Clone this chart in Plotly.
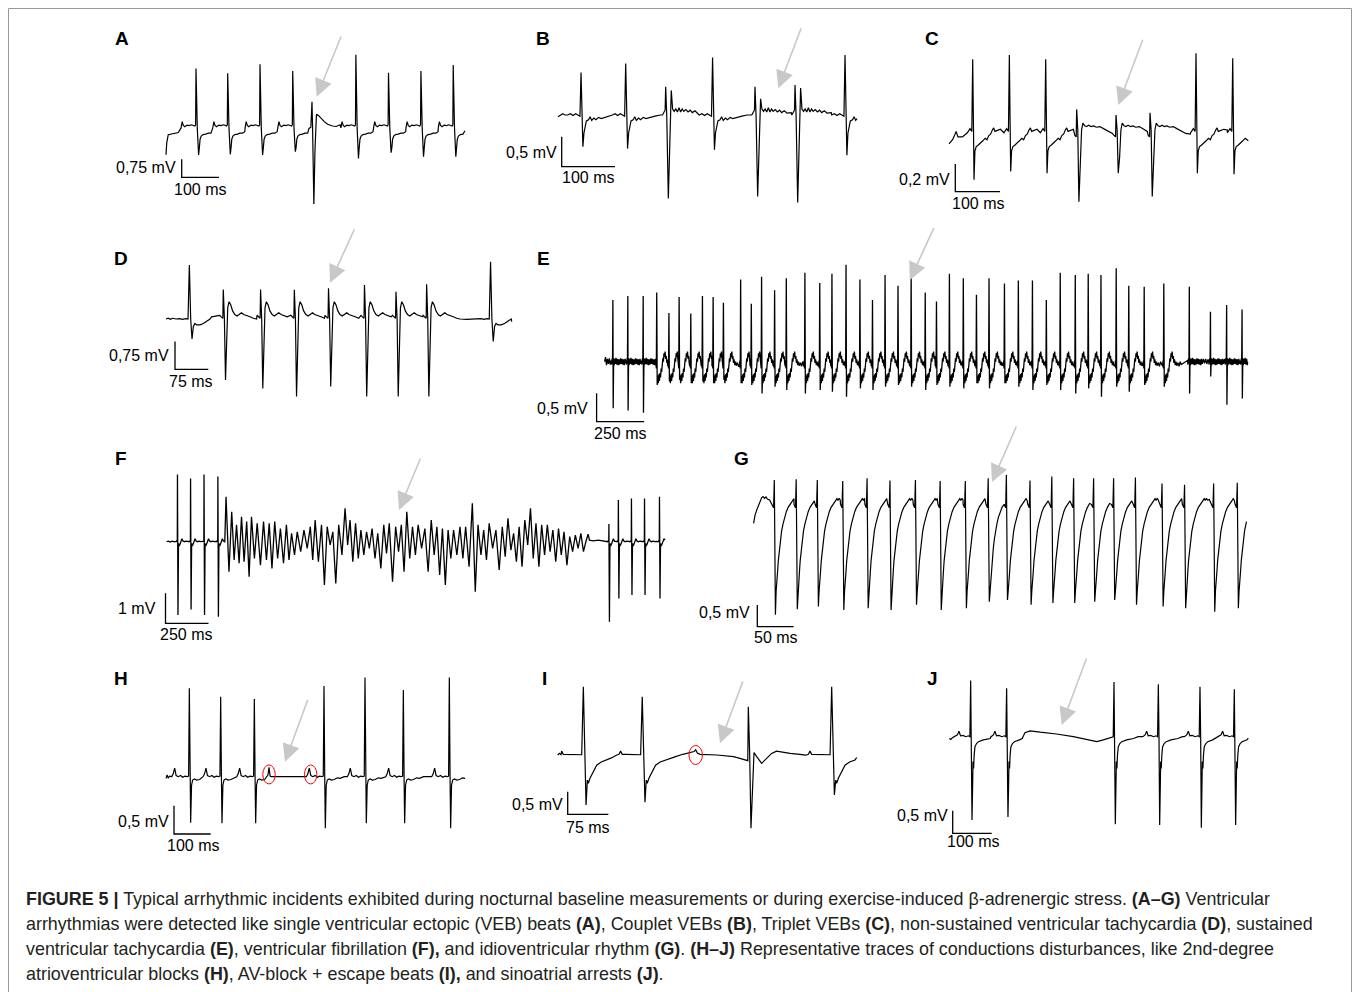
import plotly.graph_objects as go

# page is drawn with an 8px body margin: the figure covers page pixels 8..1360 x 8..992
PAGE_W, PAGE_H, OFF = 1360, 992, 8
W, H = PAGE_W - OFF, PAGE_H - OFF

# ======================= DATA (time in ms, voltage in mV) =======================
# ---- A: single VEB ----
A_T = [80.4, 165.4, 252.0, 339.7, 391.4, 509.0, 596.5, 683.4, 770.0]
A_R = [2.40, 2.20, 2.57, 2.29, 1.01, 2.97, 2.22, 2.29, 2.54]
A_S = [-1.21, -1.18, -1.21, -1.07, -3.25, -1.35, -1.11, -1.28, -1.28]
A_K = ["N", "N", "N", "N", "V", "N", "N", "N", "N"]
A_START = [(0, -1.2), (2, -0.7), (6, -0.36), (15, -0.32), (25, -0.3), (33, -0.27)]
A_END = (801.6, -0.2)

# ---- B: couplet VEBs ----
B_T = [43.2, 127.0, 202.0, 290.0, 369.6, 444.7, 538.5]
B_R = [0.71, 0.86, 0.47, 0.96, 0.47, 0.50, 1.00]
B_S = [-0.53, -0.56, -1.39, -0.58, -1.36, -1.46, -0.67]
B_Q = [0.0, 0.0, 0.41, 0.0, 0.27, 0.45, 0.0]
B_K = ["N", "N", "V", "N", "V", "V", "N"]
B_START = [(0, -0.03), (4, -0.01), (9, 0.02), (13, 0.0)]
B_END = (561.0, -0.06)

# ---- C: triplet VEBs ----
C_T = [53.0, 135.0, 216.3, 285.6, 373.6, 449.7, 552.6, 634.7]
C_R = [0.511, 0.542, 0.511, 0.149, 0.108, 0.125, 0.554, 0.518]
C_S = [-0.36, -0.30, -0.313, -0.518, -0.313, -0.48, -0.313, -0.32]
C_K = ["N", "N", "N", "V", "V", "V", "N", "N"]
C_START = [(0, -0.1), (8, -0.07), (13, -0.035), (16, -0.01), (20, -0.05), (30, -0.05)]
C_END = (669.6, -0.077)

# ---- D: non-sustained VT ----
D_T = [52.6, 129.0, 213.0, 289.0, 366.0, 447.0, 518.0, 587.0, 731.0]
D_R = [1.46, 0.80, 0.80, 0.79, 0.83, 0.92, 0.74, 0.94, 1.55]
D_S = [-0.54, -1.65, -1.88, -2.10, -1.83, -2.10, -2.10, -2.10, -0.61]
D_K = ["N", "V", "V", "V", "V", "V", "V", "V", "N"]
D_START = [(0, 0.0), (5, 0.02), (10, -0.01), (15, 0.02)]
D_END = (778.6, -0.07)

# ---- E: sustained VT ----
E_T = [43.6, 122.0, 202.7,
       273.8, 337.8, 391.4, 452.7, 513.8, 570.0, 624.0, 714.5, 770.5, 824.5,
       892.9, 954.3, 1052.0, 1130.0, 1194.0, 1268.0, 1341.0, 1407.0, 1473.0, 1541.0,
       1610.0, 1684.0, 1743.0, 1811.0, 1884.0, 1953.0, 2019.0, 2100.0, 2173.0, 2247.0,
       2320.0, 2393.0, 2472.0, 2540.0, 2607.0, 2687.0, 2753.0, 2834.0, 2937.0,
       3071.0, 3182.0, 3267.0, 3348.0]
E_R = [1.09, 1.16, 1.16,
       1.22, 0.86, 1.14, 0.85, 1.16, 1.14, 1.04, 1.45, 1.02, 1.50,
       1.26, 1.47, 1.57, 1.39, 1.55, 1.71, 1.45, 1.09, 1.53, 1.34,
       1.60, 1.22, 1.06, 1.55, 1.47, 1.18, 1.47, 1.38, 1.43, 1.43,
       1.09, 1.57, 1.53, 1.55, 1.53, 1.65, 1.34, 1.32, 1.38,
       1.32, 0.88, 1.00, 0.92]
E_S = [-0.82, -0.86, -0.90,
       -0.41, -0.35, -0.32, -0.38, -0.35, -0.38, -0.32, -0.38, -0.41, -0.56,
       -0.44, -0.50, -0.56, -0.50, -0.53, -0.62, -0.47, -0.50, -0.44, -0.41,
       -0.44, -0.50, -0.41, -0.44, -0.47, -0.38, -0.47, -0.38, -0.44, -0.50,
       -0.41, -0.50, -0.56, -0.47, -0.62, -0.44, -0.53, -0.41, -0.44,
       -0.56, -0.26, -0.76, -0.65]
E_K = ["B", "B", "B"] + ["T"] * 39 + ["B", "B", "B", "B"]
E_START = [(0, 0.0), (5, 0.08), (10, -0.06), (15, 0.05), (20, -0.04), (25, 0.06), (30, -0.05)]
E_END = (3377.0, 0.0)

# ---- F: ventricular fibrillation ----
F_T = [62.6, 138.8, 217.0, 297.6, 2571.0, 2626.0, 2702.0, 2778.0, 2865.0]
F_R = [2.24, 2.11, 2.24, 2.17, 0.59, 1.39, 1.44, 1.44, 1.50]
F_S = [-2.44, -2.26, -2.44, -2.50, -2.67, -1.89, -1.78, -1.78, -1.89]
F_K = ["S"] * 9
F_VF_PEAK_T = [345, 378, 406, 435, 465, 493, 526, 563, 596, 628, 661, 696, 726, 759, 798, 835,
               863, 900, 933, 966, 1000, 1037, 1066, 1098, 1129, 1162, 1194, 1227, 1262, 1294,
               1331, 1364, 1396, 1429, 1462, 1501, 1538, 1571, 1603, 1636, 1668, 1705, 1738,
               1777, 1810, 1843, 1875, 1914, 1951, 1984, 2017, 2049, 2082, 2115, 2147, 2180,
               2213, 2245, 2278, 2310, 2343, 2376, 2408, 2437]
F_VF_PEAK_V = [1.5, 1.0, 0.56, 0.83, 0.67, 0.83, 0.61, 0.67, 0.61, 0.67, 0.44, 0.56, 0.28, 0.33,
               0.39, 0.5, 0.72, 0.56, 0.5, 0.33, 0.56, 1.11, 0.72, 0.61, 0.39, 0.33, 0.44, 0.28,
               0.56, 0.61, 0.5, 0.56, 1.0, 0.5, 0.56, 0.44, 0.72, 0.5, 0.44, 0.39, 0.39, 0.5, 0.5,
               1.28, 0.56, 0.39, 0.61, 0.39, 0.5, 0.78, 0.28, 0.5, 0.72, 1.11, 0.61, 0.56, 0.56,
               0.39, 0.44, 0.33, 0.17, 0.22, 0.28, 0.0]
F_VF_TROUGH_T = [362, 392, 421, 450, 479, 510, 545, 580, 612, 645, 679, 711, 743, 779, 817, 849,
                 882, 917, 950, 983, 1019, 1052, 1082, 1114, 1146, 1178, 1211, 1245, 1278, 1313,
                 1348, 1380, 1413, 1446, 1482, 1520, 1555, 1587, 1620, 1652, 1687, 1722, 1758,
                 1794, 1827, 1859, 1895, 1933, 1968, 2001, 2033, 2066, 2099, 2131, 2164, 2197,
                 2229, 2262, 2294, 2327, 2360, 2392, 2423]
F_VF_TROUGH_V = [-1.0, -0.61, -0.72, -0.67, -1.17, -0.56, -0.78, -0.61, -0.89, -0.56,
                 -0.72, -0.61, -0.44, -0.33, -0.22, -0.61, -0.67, -1.44, -0.11, -1.39,
                 -0.44, -0.11, -0.67, -0.56, -0.44, -0.22, -0.56, -0.89, -0.39, -1.33,
                 -0.33, -1.0, -0.56, -0.44, -0.22, -1.0, -0.44, -1.11, -1.44, -0.56,
                 -0.44, -0.56, -0.83, -1.67, -0.44, -0.61, -0.22, -0.94, -0.5, -0.28,
                 -0.67, -0.83, -0.11, -0.56, -0.83, -0.44, -0.33, -0.67, -0.44, -0.78,
                 -0.33, -0.22, -0.33]
F_VF_AFTER = [(2450, 0.25), (2458, 0.05), (2480, 0.03), (2510, 0.05), (2540, 0.03)]
F_START = [(0, 0.0), (10, 0.02), (20, -0.01), (30, 0.02), (40, 0.0), (50, 0.01)]
F_END = (2897.0, 0.05)

# ---- G: idioventricular rhythm ----
G_T = [28.5, 58.6, 87.6, 122.6, 156.1, 187.6, 222.6, 256.6, 291.2, 322.7, 347.7, 380.2,
       410.2, 440.2, 467.7, 495.2, 525.2, 561.8, 592.8, 632.8, 665.3]
G_R = [0.46, 0.48, 0.46, 0.44, 0.50, 0.45, 0.46, 0.44, 0.44, 0.50, 0.58, 0.45, 0.54, 0.50,
       0.50, 0.50, 0.52, 0.38, 0.35, 0.38, 0.40]
G_S = [-2.65, -2.52, -2.46, -2.54, -2.50, -2.54, -2.42, -2.54, -2.50, -2.35, -2.31, -2.42,
       -2.38, -2.38, -2.35, -2.31, -2.42, -2.46, -2.50, -2.58, -2.50]
G_K = ["G"] * 21
G_START = [(0, -0.54), (2, -0.35), (5, -0.2), (8, -0.05), (11, 0.05), (13, 0.08), (15, 0.04),
           (17, 0.07), (19, 0.02), (22, 0.0)]
G_END = (678.0, -0.5)

# ---- H: 2nd-degree AV block ----
H_T = [63.6, 149.0, 240.7, 280.7, 430.5, 542.2, 646.7, 772.0]
H_R = [1.56, 1.41, 1.37, 0.165, 1.60, 1.75, 1.53, 1.75]
H_S = [-0.81, -0.82, -0.82, 0.0, -0.91, -0.82, -0.82, -0.91]
H_K = ["N", "N", "N", "P", "N", "N", "N", "N"]
H_START = [(0, -0.03), (3, 0.03), (6, -0.02), (10, 0.01)]
H_END = (815.0, -0.03)
H_MARKED_P = [280.7, 394.2]

# ---- I: AV block + escape beat ----
I_T = [47.3, 156.0, 254.6, 351.7, 505.5]
I_R = [1.49, 1.27, 0.10, 1.05, 1.49]
I_S = [-1.12, -1.06, 0.0, -1.63, -0.90]
I_K = ["N", "N", "P", "E", "N"]
I_START = [(0, -0.015), (3, 0.02), (6, -0.01)]
I_END = (551.7, -0.07)
I_MARKED_P = [254.6]

# ---- J: sinoatrial arrest ----
J_T = [54.8, 147.0, 422.3, 536.0, 642.8, 730.8]
J_R = [1.24, 1.07, 1.21, 1.16, 1.10, 1.05]
J_S = [-1.84, -1.77, -1.93, -1.95, -2.01, -1.95]
J_K = ["N", "A", "M", "N", "N", "N"]
J_START = [(0, -0.04), (4, -0.06), (8, -0.02), (12, 0.0)]
J_END = (766.7, -0.03)

# ---- scale bars ----
LETTERS = ["A", "B", "C", "D", "E", "F", "G", "H", "I", "J"]
SCALE_MV = [0.75, 0.5, 0.2, 0.75, 0.5, 1.0, 0.5, 0.5, 0.5, 0.5]
SCALE_MS = [100, 100, 100, 75, 250, 250, 50, 100, 75, 100]
SCALE_MV_TXT = ["0,75 mV", "0,5 mV", "0,2 mV", "0,75 mV", "0,5 mV", "1 mV", "0,5 mV",
                "0,5 mV", "0,5 mV", "0,5 mV"]
SCALE_MS_TXT = ["100 ms", "100 ms", "100 ms", "75 ms", "250 ms", "250 ms", "50 ms",
                "100 ms", "75 ms", "100 ms"]

CAPTION = [
    "<b>FIGURE 5 |</b> Typical arrhythmic incidents exhibited during nocturnal baseline measurements or during exercise-induced β-adrenergic stress. <b>(A–G)</b> Ventricular",
    "arrhythmias were detected like single ventricular ectopic (VEB) beats <b>(A)</b>, Couplet VEBs <b>(B)</b>, Triplet VEBs <b>(C)</b>, non-sustained ventricular tachycardia <b>(D)</b>, sustained",
    "ventricular tachycardia <b>(E)</b>, ventricular fibrillation <b>(F),</b> and idioventricular rhythm <b>(G)</b>. <b>(H–J)</b> Representative traces of conductions disturbances, like 2nd-degree",
    "atrioventricular blocks <b>(H)</b>, AV-block + escape beats <b>(I),</b> and sinoatrial arrests <b>(J)</b>.",
]

# ======================= beat shapes (ms from R peak, mV or per-beat value) =======================
TPL_A = {
    "N": [(-40, -0.08), (-37, 0.18), (-34, 0.02), (-30, -0.03), (-24, 0.04), (-18, 0.02),
          (-12, 0.05), (-7, 0.03), (-3, 0.0), (-1, 0.05), (0, "R"), (3.5, -0.1), (7, "S"),
          (9, -0.9), (11, -0.55), (14, -0.42), (19, -0.36), (26, -0.34), (33, -0.3),
          (40, -0.3), (46, -0.24)],
    "V": [(-8, -0.1), (-3, -0.05), (0, "R"), (1.5, 0.0), (5, "S"), (8, -1.0), (10, 0.3),
          (12, 0.49), (18, 0.43), (25, 0.3), (33, 0.18), (42, 0.07), (55, 0.0), (65, -0.02),
          (75, 0.05), (78, -0.01), (90, 0.0)],
}
TPL_B = {
    "N": [(-25, 0.0), (-20, 0.02), (-15, -0.01), (-10, 0.02), (-5, 0.0), (-2, -0.02), (0, "R"),
          (2, 0.05), (3.5, "S"), (5.5, -0.3), (7.5, -0.22), (10, -0.1), (14, -0.08), (17, -0.03),
          (20, -0.09), (24, -0.05), (28, -0.08), (33, -0.04), (38, -0.06), (45, -0.04),
          (55, -0.02), (65, 0.0)],
    "V": [(-6, 0.0), (-3, 0.05), (-1, 0.08), (0, "R"), (2, 0.0), (5, "S"), (8, -0.5),
          (10.5, "Q"), (13, 0.1), (16, 0.06), (19, 0.1), (22, 0.05), (25, 0.12), (28, 0.05),
          (31, 0.1), (34, 0.06), (38, 0.09), (42, 0.05), (46, 0.08), (50, 0.04), (55, 0.07),
          (60, 0.03), (68, 0.04), (75, 0.02)],
}
TPL_C = {
    "N": [(-12, -0.02), (-6, 0.01), (-2, -0.01), (0, "R"), (1.5, 0.1), (3, "S"), (5, -0.15),
          (8, -0.12), (12, -0.11), (16, -0.1), (22, -0.08), (28, -0.06), (32, -0.07),
          (36, -0.04), (40, -0.03), (44, 0.0), (47, 0.015), (50, -0.01), (55, -0.005),
          (62, 0.005), (70, 0.0)],
    "V": [(-4, -0.04), (-1, -0.05), (0, "R"), (2.5, 0.0), (5, "S"), (8, -0.2), (11, 0.0),
          (14, 0.05), (18, 0.03), (22, 0.025), (27, 0.035), (32, 0.025), (38, 0.03),
          (44, 0.02), (52, 0.025), (60, 0.01), (70, -0.01), (80, -0.025), (90, -0.03),
          (100, -0.025)],
}
TPL_D = {
    "N": [(-30, 0.0), (-22, 0.01), (-15, -0.01), (-8, 0.01), (-3, 0.0), (0, "R"), (3, 0.0),
          (6, "S"), (9, -0.2), (12.5, -0.12), (16.5, -0.16), (24, -0.16), (31.5, -0.12),
          (39, -0.07), (46.5, 0.0), (50, 0.06), (58, 0.08), (65, 0.11)],
    "V": [(-8, 0.1), (-4, 0.05), (-1, 0.02), (0, "R"), (2.5, 0.0), (5, "S"), (7.5, -0.6),
          (10, 0.3), (13, 0.47), (17, 0.38), (21, 0.22), (26, 0.12), (31, 0.08), (36, 0.13),
          (41, 0.17), (46, 0.12), (52, 0.1), (60, 0.06), (68, 0.02), (75, 0.0), (90, -0.01),
          (110, 0.01), (125, -0.02)],
}
TPL_E = {
    "B": [(-10, 0.02), (-7, -0.05), (-4, 0.06), (-2, -0.03), (0, "R"), (1.5, "S"), (4, 0.06),
          (7, -0.06), (10, 0.05), (13, -0.04), (16, 0.07), (20, -0.05), (24, 0.05), (28, -0.06),
          (32, 0.04), (36, -0.05), (40, 0.06), (44, -0.04), (48, 0.05), (52, -0.05), (56, 0.04),
          (60, -0.06), (64, 0.05), (68, -0.04), (74, 0.05), (80, -0.03), (86, 0.05),
          (92, -0.04), (98, 0.04), (104, -0.05)],
    "T": [(-6, -0.08), (-4, 0.02), (-2, -0.12), (0, "R"), (2.5, "S"), (5, -0.25), (8, -0.38),
          (11, -0.22), (14, -0.34), (17, -0.2), (20, -0.28), (23, -0.12), (26, -0.18),
          (29, -0.02), (32, 0.06), (35, 0.0), (38, 0.15), (41, 0.08), (44, 0.18), (47, 0.05),
          (50, 0.1), (53, -0.02), (56, 0.04), (60, -0.06), (64, 0.0), (68, -0.07), (74, -0.02),
          (80, -0.08), (86, 0.0), (92, -0.05)],
}
TPL_F = {
    "S": [(-8, 0.0), (-4, 0.03), (-1, 0.0), (0, "R"), (3, "S"), (6, -0.06), (10, -0.14),
          (15, -0.08), (20, 0.02), (26, 0.1), (32, 0.02), (40, 0.0), (50, 0.02), (60, 0.0),
          (70, 0.01)],
}
TPL_G = {
    "G": [(-3, -0.1), (-1, -0.18), (0, "R"), (1.5, "S"), (2.5, -2.1), (3.5, -1.95),
          (4.5, -1.65), (5.5, -1.4), (7, -1.12), (8.5, -0.9), (10, -0.72), (12, -0.55),
          (14, -0.4), (16.5, -0.27), (19, -0.17), (22, -0.08), (25, -0.02), (27, 0.03),
          (28.5, -0.01), (30, 0.04), (31.5, 0.0), (34, 0.01), (38, -0.05), (42, -0.12)],
}
TPL_H = {
    "N": [(-48, 0.0), (-44, 0.05), (-40, 0.15), (-36, 0.02), (-30, 0.0), (-24, 0.02),
          (-18, -0.01), (-12, 0.01), (-6, 0.0), (-2, 0.01), (0, "R"), (2, 0.0), (3.6, "S"),
          (6, -0.15), (9, -0.06), (14, -0.04), (20, -0.06), (28, -0.05), (36, -0.02),
          (44, -0.03), (55, 0.0), (70, 0.0), (85, -0.01)],
    "P": [(-6, 0.0), (-3, 0.03), (0, "R"), (3, 0.01), (6, 0.0), (20, 0.0), (50, 0.0),
          (90, 0.0)],
}
TPL_I = {
    "N": [(-48, -0.02), (-43, 0.0), (-40, 0.07), (-37, 0.0), (-30, 0.0), (-20, 0.0),
          (-10, 0.0), (-3, -0.01), (0, "R"), (2.5, 0.1), (5, "S"), (7.4, -0.57), (9.2, -0.64),
          (12.3, -0.53), (18, -0.38), (24.6, -0.24), (33, -0.17), (43, -0.125), (52, -0.08),
          (61.5, -0.05), (75, 0.0), (90, 0.04), (100, 0.04)],
    "P": [(-6, 0.04), (-3, 0.06), (0, "R"), (3, 0.03), (8, 0.0), (39, -0.015), (70, -0.05),
          (85, -0.1), (91, -0.125)],
    "E": [(-4, -0.13), (-1, -0.14), (0, "R"), (2.5, 0.0), (4.9, "S"), (7, -0.8), (9, -0.1),
          (10.5, 0.04), (15.4, -0.05), (24.6, -0.2), (33.8, -0.09), (43, 0.02), (52, 0.07),
          (65, 0.04), (77, 0.02), (95, 0.0), (114, 0.0), (140, -0.01)],
}
J_QRS = [(0, "R"), (1.7, 0.0), (3.4, "S"), (5, -1.1), (6, -0.55), (7.5, -0.7), (9, -0.4),
         (11, -0.22), (15, -0.15), (20, -0.11), (32.5, -0.07)]
J_TAIL = [(50, -0.04), (62, 0.0), (75, 0.015), (88, 0.04)]
J_ARREST = [(40, -0.04), (47, 0.09), (60, 0.13), (86, 0.1), (128, 0.06), (171, 0.0),
            (214, -0.07), (231, -0.11), (248, -0.07), (265, -0.015)]
J_PRE = [(-40, 0.0), (-34, 0.04), (-30, 0.12), (-26, 0.02), (-20, 0.03), (-12, 0.0),
         (-6, 0.02), (-2, 0.0)]
TPL_J = {
    "N": J_PRE + J_QRS + J_TAIL,
    "A": J_PRE + J_QRS + J_ARREST,
    "M": [(-8, -0.02), (-2, 0.0)] + J_QRS + J_TAIL,
}


# ======================= trace assembly =======================
def beat_points(T, tpl, params, i):
    return [(T + dt, params[v][i] if isinstance(v, str) else v) for dt, v in tpl]


def assemble(segments, start, end):
    xs = [p[0] for p in start]
    ys = [p[1] for p in start]
    segments = sorted(segments, key=lambda s: s[0][0])
    for k, seg in enumerate(segments):
        hi = segments[k + 1][0][0] if k + 1 < len(segments) else end[0]
        for t, v in seg:
            if xs[-1] < t < hi:
                xs.append(t)
                ys.append(v)
    xs.append(end[0])
    ys.append(end[1])
    return xs, ys


def ecg(times, kinds, params, tpl, start, end, extra=None):
    segs = [beat_points(T, tpl[k], params, i) for i, (T, k) in enumerate(zip(times, kinds))]
    if extra:
        segs += extra
    return assemble(segs, start, end)


vf_seg = []
for i in range(len(F_VF_PEAK_T)):
    vf_seg.append((F_VF_PEAK_T[i], F_VF_PEAK_V[i]))
    if i < len(F_VF_TROUGH_T):
        vf_seg.append((F_VF_TROUGH_T[i], F_VF_TROUGH_V[i]))
vf_seg += F_VF_AFTER

TRACES = [
    ecg(A_T, A_K, {"R": A_R, "S": A_S}, TPL_A, A_START, A_END),
    ecg(B_T, B_K, {"R": B_R, "S": B_S, "Q": B_Q}, TPL_B, B_START, B_END),
    ecg(C_T, C_K, {"R": C_R, "S": C_S}, TPL_C, C_START, C_END),
    ecg(D_T, D_K, {"R": D_R, "S": D_S}, TPL_D, D_START, D_END),
    ecg(E_T, E_K, {"R": E_R, "S": E_S}, TPL_E, E_START, E_END),
    ecg(F_T, F_K, {"R": F_R, "S": F_S}, TPL_F, F_START, F_END, extra=[vf_seg]),
    ecg(G_T, G_K, {"R": G_R, "S": G_S}, TPL_G, G_START, G_END),
    ecg(H_T, H_K, {"R": H_R, "S": H_S}, TPL_H, H_START, H_END),
    ecg(I_T, I_K, {"R": I_R, "S": I_S}, TPL_I, I_START, I_END),
    ecg(J_T, J_K, {"R": J_R, "S": J_S}, TPL_J, J_START, J_END),
]

# ======================= layout (page-pixel placement of each panel) =======================
# x0,y0: page pixel of t=0 / 0 mV; pxms, pxmv: pixels per ms / per mV; bar: scale-bar corner
PANELS = [
    dict(x0=166.0, y0=126.0, pxms=0.373, pxmv=24.0, bar=(181.7, 177.3), mvlab=(178, 167), mslab=(200, 189.5), letter=(122, 38)),
    dict(x0=558.0, y0=115.0, pxms=0.533, pxmv=60.0, bar=(561.7, 166.7), mvlab=(559, 153), mslab=(588, 178), letter=(543, 38)),
    dict(x0=949.0, y0=130.0, pxms=0.447, pxmv=138.3, bar=(955.3, 191.7), mvlab=(952, 179), mslab=(978, 203), letter=(932, 38)),
    dict(x0=166.0, y0=319.0, pxms=0.444, pxmv=36.9, bar=(175.0, 369.3), mvlab=(171, 355), mslab=(191, 381), letter=(121, 258)),
    dict(x0=604.6, y0=361.7, pxms=0.1904, pxmv=56.7, bar=(596.6, 421.7), mvlab=(590, 408), mslab=(620, 433), letter=(543, 258)),
    dict(x0=166.7, y0=541.7, pxms=0.172, pxmv=30.0, bar=(165.5, 623.3), mvlab=(158, 608), mslab=(186, 634), letter=(121, 459)),
    dict(x0=753.6, y0=500.0, pxms=0.727, pxmv=43.3, bar=(757.3, 626.7), mvlab=(752, 612), mslab=(776, 637), letter=(741, 459)),
    dict(x0=166.0, y0=776.7, pxms=0.367, pxmv=56.7, bar=(174.0, 834.0), mvlab=(171, 821), mslab=(193, 845), letter=(121, 678)),
    dict(x0=557.7, y0=754.3, pxms=0.542, pxmv=45.3, bar=(567.7, 814.3), mvlab=(565, 804), mslab=(588, 827), letter=(544, 678)),
    dict(x0=949.3, y0=736.7, pxms=0.390, pxmv=45.3, bar=(952.7, 833.3), mvlab=(950, 815), mslab=(973, 841), letter=(932, 678)),
]
ARROWS = [((341.7, 35), (316.7, 96.7)), ((801.7, 26.7), (778.3, 88.3)),
          ((1143.3, 38.3), (1118.3, 105)), ((355, 228), (330, 282.7)),
          ((934.5, 226.7), (909.8, 280)), ((421, 457), (399, 510)),
          ((1017, 425), (992, 482)), ((308.3, 698.3), (285, 761.7)),
          ((743.3, 680), (720, 743.3)), ((1087, 657), (1061.7, 725))]

FONT = "Liberation Sans, Arial, Helvetica, sans-serif"


def px(x, y):
    """page pixel -> paper fraction"""
    return (x - OFF) / W, 1 - (y - OFF) / H


fig = go.Figure()
layout = dict(width=W, height=H, margin=dict(l=0, r=0, t=0, b=0, pad=0),
              paper_bgcolor="white", plot_bgcolor="rgba(0,0,0,0)", showlegend=False)
annotations, shapes = [], []

for i, (p, (xs, ys)) in enumerate(zip(PANELS, TRACES), start=1):
    sx = "" if i == 1 else str(i)
    xr = [(OFF - p["x0"]) / p["pxms"], (PAGE_W - p["x0"]) / p["pxms"]]
    yr = [(p["y0"] - PAGE_H) / p["pxmv"], (p["y0"] - OFF) / p["pxmv"]]
    layout["xaxis" + sx] = dict(domain=[0, 1], range=xr, visible=False, fixedrange=True, anchor="y" + sx)
    layout["yaxis" + sx] = dict(domain=[0, 1], range=yr, visible=False, fixedrange=True, anchor="x" + sx)
    lw = 1.3 if i in (5, 6) else 1.2
    fig.add_trace(go.Scatter(x=xs, y=ys, mode="lines", line=dict(color="black", width=lw),
                             xaxis="x" + sx, yaxis="y" + sx, hoverinfo="skip"))
    # scale bar
    bt = (p["bar"][0] - p["x0"]) / p["pxms"]
    bv = (p["y0"] - p["bar"][1]) / p["pxmv"]
    mv, ms = SCALE_MV[i - 1], SCALE_MS[i - 1]
    fig.add_trace(go.Scatter(x=[bt, bt, bt + ms], y=[bv + mv, bv, bv], mode="lines",
                             line=dict(color="black", width=1.3), xaxis="x" + sx, yaxis="y" + sx,
                             hoverinfo="skip"))
    lx, ly = px(*p["mvlab"])
    annotations.append(dict(x=lx, y=ly, xref="paper", yref="paper", text=SCALE_MV_TXT[i - 1],
                            showarrow=False, xanchor="right", yanchor="middle",
                            font=dict(family=FONT, size=16, color="black")))
    lx, ly = px(*p["mslab"])
    annotations.append(dict(x=lx, y=ly, xref="paper", yref="paper", text=SCALE_MS_TXT[i - 1],
                            showarrow=False, xanchor="center", yanchor="middle",
                            font=dict(family=FONT, size=16, color="black")))
    lx, ly = px(*p["letter"])
    annotations.append(dict(x=lx, y=ly, xref="paper", yref="paper", text="<b>%s</b>" % LETTERS[i - 1],
                            showarrow=False, xanchor="center", yanchor="middle",
                            font=dict(family=FONT, size=19, color="black")))

# red circles around P waves (H, I)
for t in H_MARKED_P:
    shapes.append(dict(type="circle", xref="x8", yref="y8", x0=t - 16.9, x1=t + 16.9,
                       y0=0.04 - 0.168, y1=0.04 + 0.168, line=dict(color="red", width=1)))
for t in I_MARKED_P:
    shapes.append(dict(type="circle", xref="x9", yref="y9", x0=t - 12.4, x1=t + 12.4,
                       y0=-0.015 - 0.21, y1=-0.015 + 0.21, line=dict(color="red", width=1)))

# grey arrows
for (tx, ty), (hx, hy) in ARROWS:
    x, y = px(hx, hy)
    annotations.append(dict(x=x, y=y, xref="paper", yref="paper", ax=tx - hx, ay=ty - hy,
                            axref="pixel", ayref="pixel", text="", showarrow=True,
                            arrowhead=2, arrowsize=2.2, arrowwidth=1.6, arrowcolor="#c8c8c8"))

# outer frame
shapes.append(dict(type="rect", xref="paper", yref="paper", x0=0.5 / W, x1=(1351.5 - OFF) / W,
                   y0=-0.02, y1=1 - 0.5 / H, line=dict(color="#9a9a9a", width=1)))

# caption
for k, line in enumerate(CAPTION):
    x, y = px(24, 899 + 25 * k)
    annotations.append(dict(x=x, y=y, xref="paper", yref="paper", text=line, showarrow=False,
                            xanchor="left", yanchor="middle", align="left",
                            font=dict(family=FONT, size=17.9, color="#231f20")))

layout["annotations"] = annotations
layout["shapes"] = shapes
fig.update_layout(**layout)
fig.write_html("out.html")
